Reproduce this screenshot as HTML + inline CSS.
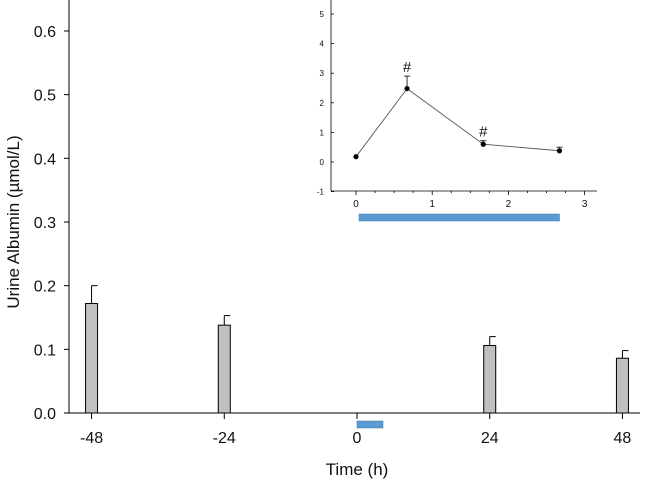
<!DOCTYPE html>
<html><head><meta charset="utf-8"><style>
body{margin:0;background:#fff}
svg{display:block;font-family:"Liberation Sans",Arial,sans-serif}
</style></head><body>
<svg id="c" width="645" height="482" viewBox="0 0 645 482"></svg>
<script>
const categories=[-48,-24,24,48];
const values=[0.172,0.138,0.106,0.086];
const errors=[0.028,0.015,0.014,0.012];
const yTicks=[0.0,0.1,0.2,0.3,0.4,0.5,0.6];
const xTicks=[-48,-24,0,24,48];
const insetX=[0,0.67,1.67,2.67];
const insetY=[0.18,2.48,0.6,0.38];
const insetErr=[0,0.42,0.12,0.12];
const insetSig=[false,true,true,false];
const insetYTicks=[-1,0,1,2,3,4,5];
const insetXTicks=[0,1,2,3];
const NS="http://www.w3.org/2000/svg";
const svg=document.getElementById('c');
function el(t,a,txt){const e=document.createElementNS(NS,t);for(const k in a)e.setAttribute(k,a[k]);if(txt!==undefined)e.textContent=txt;svg.appendChild(e);return e;}
const X=v=>357+v*(622-91)/96*1+0*0;
const xs=v=>357+v*5.53;
const ys=v=>413-v*636.7;
// main axes
let e=el('line',{x1:69,y1:0,x2:69,y2:413,stroke:'#000'});

e=el('line',{x1:64,y1:413,x2:640,y2:413,stroke:'#000'});

yTicks.forEach(v=>{el('line',{x1:64,y1:ys(v),x2:69,y2:ys(v),stroke:'#000'});
 e=el('text',{x:56,y:ys(v)+6,'text-anchor':'end','font-size':16,fill:'#111'},v.toFixed(1));
 });
xTicks.forEach(v=>{el('line',{x1:xs(v),y1:413,x2:xs(v),y2:419,stroke:'#000'});
 e=el('text',{x:xs(v),y:443,'text-anchor':'middle','font-size':16,fill:'#111'},String(v));
 });
categories.forEach((c,i)=>{const x=xs(c);
 el('line',{x1:x,y1:ys(values[i]),x2:x,y2:ys(values[i]+errors[i]),stroke:'#000'});
 el('line',{x1:x,y1:ys(values[i]+errors[i]),x2:x+6,y2:ys(values[i]+errors[i]),stroke:'#000'});
 e=el('rect',{x:x-6,y:ys(values[i]),width:12,height:413-ys(values[i]),fill:'#c0c0c0',stroke:'#000'});
 });
e=el('rect',{x:357,y:421,width:26,height:7,fill:'#5b9bd5',stroke:'#41719c','stroke-width':0.5});

e=el('text',{x:357,y:475,'text-anchor':'middle','font-size':17,fill:'#111'},'Time (h)');

e=el('text',{x:0,y:0,'text-anchor':'middle','font-size':17,fill:'#111',transform:'translate(19,222) rotate(-90)'},'Urine Albumin (µmol/L)');

// inset
const ix=v=>356+v*76.2, iy=v=>162-v*29.6;
e=el('line',{x1:331,y1:0,x2:331,y2:191,stroke:'#000','stroke-width':0.8});

e=el('line',{x1:331,y1:191,x2:597,y2:191,stroke:'#000','stroke-width':0.8});

insetYTicks.forEach(v=>{el('line',{x1:331,y1:iy(v),x2:334,y2:iy(v),stroke:'#000','stroke-width':0.8});
 e=el('text',{x:324,y:iy(v)+3,'text-anchor':'end','font-size':8,fill:'#111'},String(v));
 });
for(let v=0;v<=3.01;v+=0.25){el('line',{x1:ix(v),y1:191,x2:ix(v),y2:v%1===0?195:193,stroke:'#000','stroke-width':0.8});}
insetXTicks.forEach(v=>{e=el('text',{x:ix(v),y:207,'text-anchor':'middle','font-size':10,fill:'#111'},String(v));
 });
e=el('polyline',{points:insetX.map((x,i)=>ix(x)+','+iy(insetY[i])).join(' '),fill:'none',stroke:'#555','stroke-width':0.9});

insetX.forEach((x,i)=>{const px=ix(x);
 if(insetErr[i]>0){el('line',{x1:px,y1:iy(insetY[i]),x2:px,y2:iy(insetY[i]+insetErr[i]),stroke:'#333'});
  el('line',{x1:px-3,y1:iy(insetY[i]+insetErr[i]),x2:px+3,y2:iy(insetY[i]+insetErr[i]),stroke:'#333'});}
 e=el('circle',{cx:px,cy:iy(insetY[i]),r:2.6,fill:'#000'});
 
 if(insetSig[i]){e=el('text',{x:px,y:iy(insetY[i]+insetErr[i])-4,'text-anchor':'middle','font-size':15,fill:'#111'},'#');
  }});
e=el('rect',{x:ix(0.04),y:214,width:ix(2.67)-ix(0.04),height:7,fill:'#5b9bd5',stroke:'#41719c','stroke-width':0.5});

</script>
</body></html>
